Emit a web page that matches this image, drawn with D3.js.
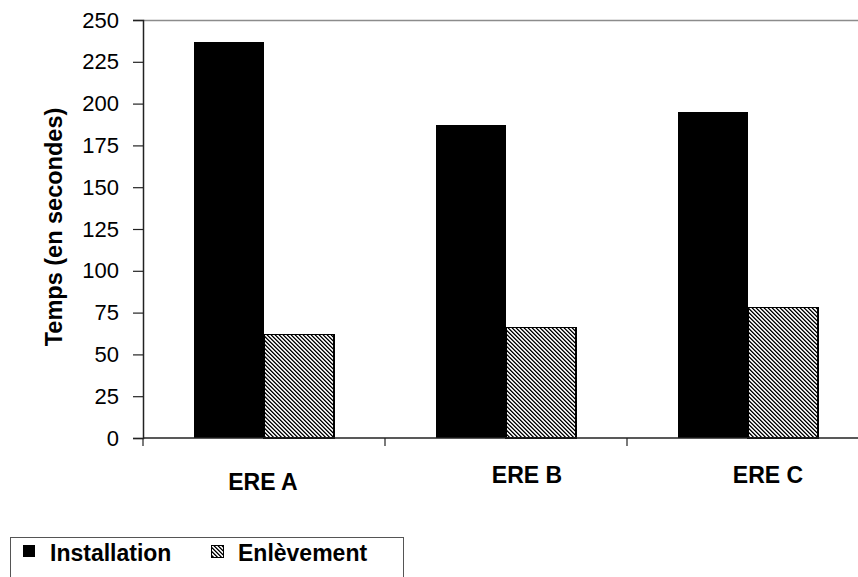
<!DOCTYPE html>
<html>
<head>
<meta charset="utf-8">
<script src="https://cdn.jsdelivr.net/npm/d3@7"></script>
<style>
  html, body { margin: 0; padding: 0; background: #fff; }
  svg { display: block; font-family: "Liberation Sans", Arial, sans-serif; }
</style>
</head>
<body>
<svg id="chart" width="858" height="577"></svg>
<script>
// Durations per site, in seconds
const categories = ["ERE A", "ERE B", "ERE C"];
const installation = [237, 187, 195];
const enlevement = [62, 66, 78];
const seriesNames = ["Installation", "Enlèvement"];
const yTicks = [0, 25, 50, 75, 100, 125, 150, 175, 200, 225, 250];

const svg = d3.select("#chart");
const W = 858, H = 577;
const plot = { left: 143, top: 20, right: 869, bottom: 438 };

// Fine diagonal hatch for the second series
const defs = svg.append("defs");
const pat = defs.append("pattern")
  .attr("id", "hatch").attr("patternUnits", "userSpaceOnUse")
  .attr("width", 4).attr("height", 4);
pat.append("rect").attr("width", 4).attr("height", 4).attr("fill", "#fff");
const hatchShades = ["#000", "#5a5a5a", "#fff", "#d0d0d0"];
for (let y = 0; y < 4; y++) {
  for (let x = 0; x < 4; x++) {
    const m = ((x - y) % 4 + 4) % 4;
    pat.append("rect").attr("x", x).attr("y", y).attr("width", 1).attr("height", 1)
      .attr("fill", hatchShades[m]);
  }
}

const x0 = d3.scaleBand().domain(categories).range([plot.left, plot.right]).paddingInner(0).paddingOuter(0);
const groupPad = 51;
const x1 = d3.scaleBand().domain(seriesNames)
  .range([groupPad, x0.bandwidth() - groupPad]).padding(0);
const y = d3.scaleLinear().domain([0, 250]).range([plot.bottom, plot.top]);

// top frame line
svg.append("line")
  .attr("x1", plot.left).attr("x2", W).attr("y1", plot.top + 0.5).attr("y2", plot.top + 0.5)
  .attr("stroke", "#8c8c8c").attr("stroke-width", 1.5);

// bars
const rows = categories.map((c, i) => ({ cat: c, values: [installation[i], enlevement[i]] }));
const g = svg.append("g");
rows.forEach(r => {
  r.values.forEach((v, j) => {
    const name = seriesNames[j];
    const bx = x0(r.cat) + x1(name);
    const rect = g.append("rect")
      .attr("x", bx).attr("y", y(v))
      .attr("width", x1.bandwidth()).attr("height", y(0) - y(v))
      .attr("shape-rendering", "crispEdges");
    if (j === 0) {
      rect.attr("fill", "#000");
    } else {
      rect.attr("fill", "url(#hatch)").attr("stroke", "#000").attr("stroke-width", 1.5);
    }
  });
});

// y axis
const yAxis = d3.axisLeft(y).tickValues(yTicks).tickSize(10).tickPadding(14).tickFormat(d3.format("d"));
const ya = svg.append("g").attr("transform", `translate(${plot.left},0)`).call(yAxis);
ya.select(".domain").attr("stroke", "#222").attr("stroke-width", 1.5);
ya.selectAll(".tick line").attr("stroke", "#222").attr("stroke-width", 1.2);
ya.selectAll(".tick text").attr("font-size", 22).attr("fill", "#000")
  .attr("font-family", "Liberation Sans, Arial, sans-serif");

// x axis line with category separators
svg.append("line")
  .attr("x1", plot.left).attr("x2", W).attr("y1", plot.bottom).attr("y2", plot.bottom)
  .attr("stroke", "#222").attr("stroke-width", 1.5);
categories.forEach(c => {
  const tx = Math.round(x0(c));
  svg.append("line").attr("x1", tx).attr("x2", tx)
    .attr("y1", plot.bottom).attr("y2", plot.bottom + 8)
    .attr("stroke", "#222").attr("stroke-width", 1.2);
});

// category labels
const labelShift = [{ dx: -1, y: 490 }, { dx: 21, y: 483 }, { dx: 20, y: 483 }];
categories.forEach((c, i) => {
  svg.append("text")
    .attr("x", x0(c) + x0.bandwidth() / 2 + labelShift[i].dx)
    .attr("y", labelShift[i].y)
    .attr("text-anchor", "middle")
    .attr("font-size", 23).attr("font-weight", "bold").attr("fill", "#000")
    .text(c);
});

// y axis title
svg.append("text")
  .attr("transform", "translate(62,227) rotate(-90)")
  .attr("text-anchor", "middle")
  .attr("font-size", 23.5).attr("font-weight", "bold").attr("fill", "#000")
  .text("Temps (en secondes)");

// legend
const leg = svg.append("g");
leg.append("rect").attr("x", 10.5).attr("y", 537.5).attr("width", 393).attr("height", 60)
  .attr("fill", "#fff").attr("stroke", "#555").attr("stroke-width", 1);
const legendItems = [
  { name: seriesNames[0], sx: 23, tx: 50 },
  { name: seriesNames[1], sx: 211, tx: 238 }
];
legendItems.forEach((it, j) => {
  const sq = leg.append("rect").attr("x", it.sx).attr("y", 545).attr("width", 12).attr("height", 12)
    .attr("shape-rendering", "crispEdges");
  if (j === 0) sq.attr("fill", "#000");
  else sq.attr("fill", "url(#hatch)").attr("stroke", "#000").attr("stroke-width", 1);
  leg.append("text").attr("x", it.tx).attr("y", 561)
    .attr("font-size", 23).attr("font-weight", "bold").attr("fill", "#000")
    .text(it.name);
});
</script>
</body>
</html>
